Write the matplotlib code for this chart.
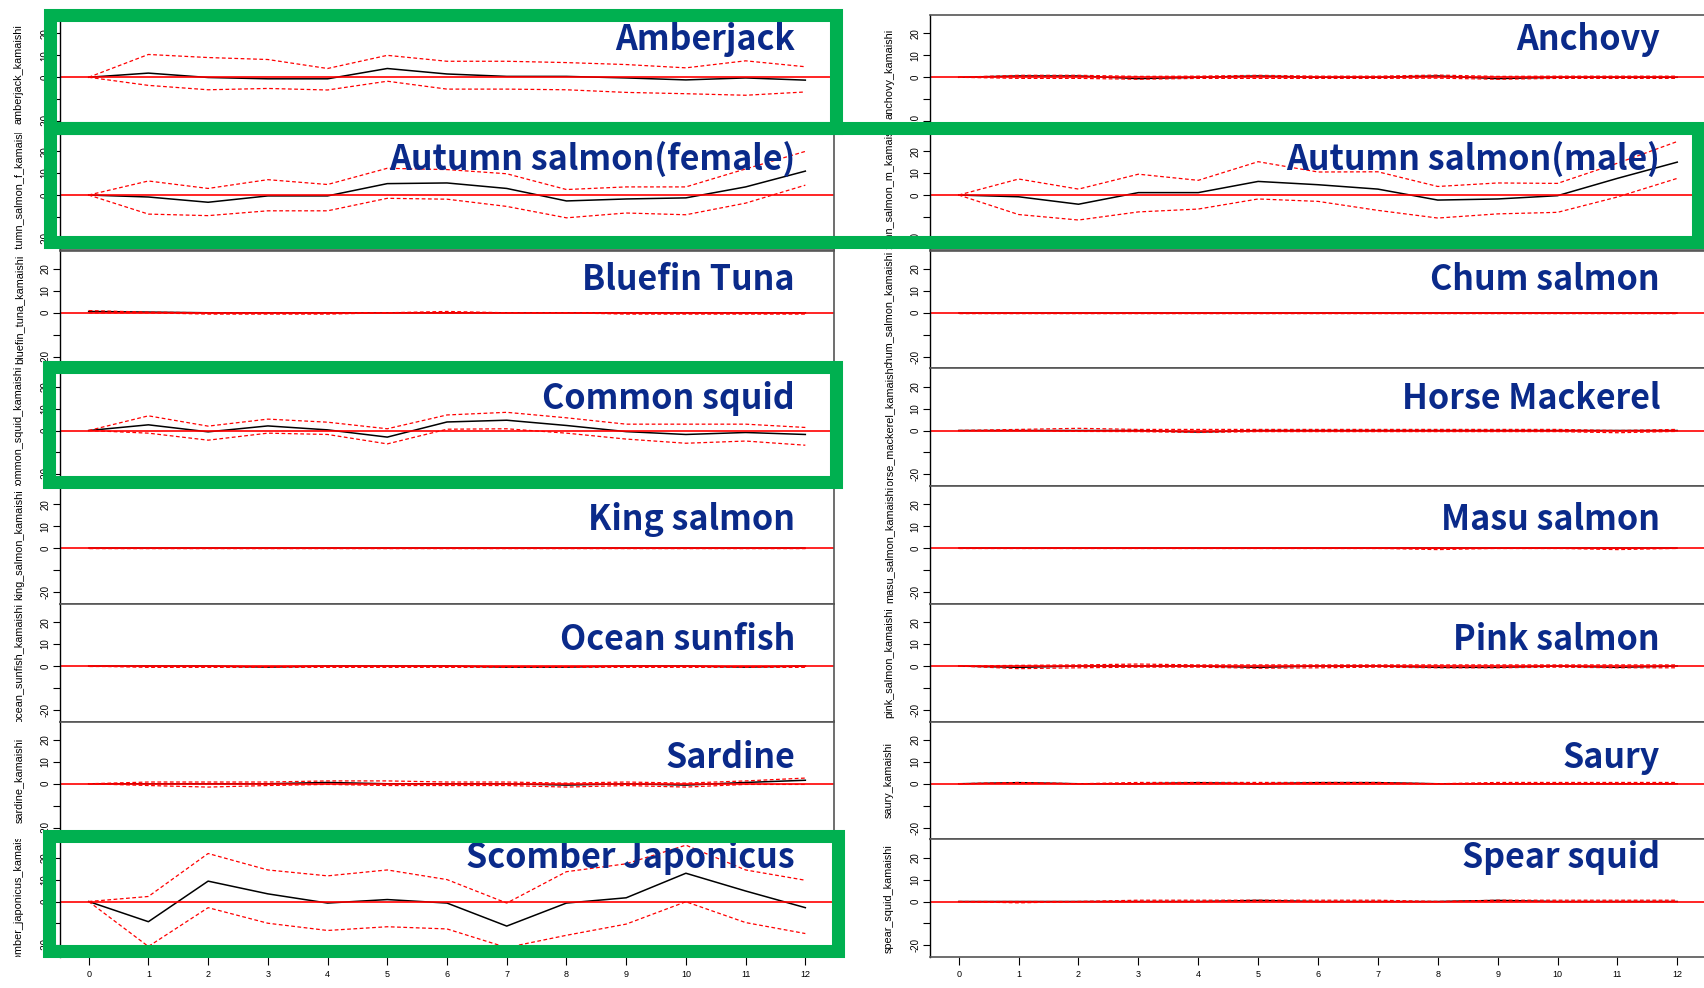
import matplotlib.pyplot as plt
from matplotlib.patches import Rectangle
from matplotlib.transforms import Bbox, TransformedBbox

plt.rcParams['font.family'] = ['Liberation Sans', 'DejaVu Sans']

# impulse responses (kamaishi), horizon 0..12
horizon = [0, 1, 2, 3, 4, 5, 6, 7, 8, 9, 10, 11, 12]

amberjack = [0, 1.9, -0.1, -0.7, -0.7, 4.0, 1.5, 0.4, 0.4, -0.3, -1.2, -0.3, -1.3]
amberjack_up = [0, 10.4, 9.0, 8.1, 4.0, 10.0, 7.3, 7.3, 6.7, 5.8, 4.3, 7.5, 4.8]
amberjack_lo = [0, -3.7, -5.7, -5.1, -5.8, -1.8, -5.4, -5.4, -5.7, -6.9, -7.5, -8.2, -6.7]

anchovy = [0, 0.6, 0.6, -0.6, 0, 0.6, 0, 0, 0.6, -0.6, 0, 0, 0]
anchovy_up = [0, 0.9, 0.9, 0.4, 0.5, 0.9, 0.5, 0.5, 1.0, 0.4, 0.5, 0.5, 0.5]
anchovy_lo = [0, -0.5, -0.5, -0.9, -0.5, -0.5, -0.5, -0.5, -0.4, -0.9, -0.5, -0.5, -0.5]

autumn_f = [0, -0.9, -3.3, -0.4, -0.4, 5.2, 5.5, 3.0, -2.7, -1.8, -1.3, 3.7, 10.9]
autumn_f_up = [0, 6.4, 3.0, 7.0, 4.8, 12.2, 11.6, 9.7, 2.5, 3.7, 3.7, 11.9, 19.9]
autumn_f_lo = [0, -8.7, -9.4, -7.2, -7.2, -1.5, -1.9, -5.2, -10.4, -8.2, -9.0, -3.7, 4.5]

autumn_m = [0, -0.8, -4.2, 1.1, 1.1, 6.2, 4.7, 2.7, -2.3, -1.8, -0.3, 7.6, 15.0]
autumn_m_up = [0, 7.3, 2.7, 9.5, 6.7, 15.2, 10.5, 10.6, 3.9, 5.5, 5.3, 14.5, 24.4]
autumn_m_lo = [0, -8.9, -11.4, -7.7, -6.4, -1.8, -2.9, -7.0, -10.5, -8.6, -7.9, -0.9, 7.6]

bluefin = [0.6, 0.3, 0, 0, 0, 0, 0, 0, 0, 0, 0, 0, 0]
bluefin_up = [1.0, 0.3, 0, 0, 0, 0, 0.6, 0, 0, 0, 0, 0, 0]
bluefin_lo = [0, 0, -0.6, -0.6, -0.6, 0, 0, 0, 0, -0.6, -0.6, -0.6, -0.6]

chum = [0, 0, 0, 0, 0, 0, 0, 0, 0, 0, 0, 0, 0]
chum_up = [0, 0, 0, 0, 0, 0, 0, 0, 0, 0, 0, 0, 0]
chum_lo = [0, 0, 0, 0, 0, 0, 0, 0, 0, 0, 0, 0, 0]

common_squid = [0, 2.6, -0.6, 2.1, 0.3, -3.0, 3.9, 4.7, 2.3, -0.5, -1.8, -0.9, -1.8]
common_squid_up = [0, 6.7, 2.0, 5.2, 3.8, 0.8, 7.1, 8.3, 5.8, 2.9, 2.9, 2.9, 1.4]
common_squid_lo = [0, -1.2, -4.4, -1.2, -1.8, -6.1, 0.6, 0.8, -1.2, -3.9, -5.8, -4.8, -6.7]

horse_mackerel = [0, 0, 0, 0, -0.7, 0, 0, 0, 0, 0, 0, 0, 0]
horse_mackerel_up = [0, 0.5, 1.0, 0.5, 0.5, 0.5, 0.5, 0.5, 0.5, 0.5, 0.5, 0, 0.5]
horse_mackerel_lo = [0, 0, -0.4, -0.5, -0.9, -0.5, -0.5, -0.5, -0.5, -0.5, -0.5, -1.0, -0.4]

king_salmon = [0, 0, 0, 0, 0, 0, 0, 0, 0, 0, 0, 0, 0]
king_salmon_up = [0, 0, 0, 0, 0, 0, 0, 0, 0, 0, 0, 0, 0]
king_salmon_lo = [0, 0, 0, 0, 0, 0, 0, 0, 0, 0, 0, 0, 0]

masu_salmon = [0, 0, 0, 0, 0, 0, 0, 0, 0, 0, 0, 0, 0]
masu_salmon_up = [0, 0, 0, 0, 0, 0, 0, 0, 0, 0, 0, 0, 0]
masu_salmon_lo = [0, 0, 0, 0, 0, 0, 0, 0, -0.6, 0, 0, -0.6, 0]

ocean_sunfish = [0, 0, 0, -0.5, 0, 0, 0, -0.5, -0.5, 0, 0, -0.5, 0]
ocean_sunfish_up = [0, 0, 0, 0, 0, 0, 0, 0, 0, 0, 0, 0, 0]
ocean_sunfish_lo = [0, -0.6, -0.6, -0.6, -0.6, -0.6, -0.6, -0.6, -0.6, -0.6, -0.6, -0.6, -0.6]

pink_salmon = [0, -0.6, 0, 0, 0, -0.6, 0, 0, -0.6, -0.6, 0, -0.6, 0]
pink_salmon_up = [0, 0.3, 0.5, 0.9, 0.5, 0.5, 0.5, 0.5, 0.5, 0.5, 0.5, 0.5, 0.5]
pink_salmon_lo = [0, -1.2, -0.8, -0.5, -0.5, -1.0, -0.8, -0.5, -0.8, -0.8, -0.5, -0.8, -0.8]

sardine = [0, 0, 0, 0, 0.6, 0, 0, 0, -0.6, 0, -0.6, 0.6, 1.6]
sardine_up = [0, 0.8, 0.8, 0.8, 1.3, 1.3, 0.8, 0.8, 0.3, 0.8, 0.3, 1.3, 2.6]
sardine_lo = [0, -0.8, -1.5, -0.8, -0.3, -0.8, -0.8, -0.8, -1.5, -0.8, -1.5, -0.3, -0.3]

saury = [0, 0.5, 0, 0, 0.5, 0, 0.5, 0.5, 0, 0, 0, 0, 0]
saury_up = [0, 0.6, 0, 0.6, 0.6, 0.6, 0.6, 0.6, 0, 0.6, 0.6, 0.6, 0.6]
saury_lo = [0, 0.4, 0, 0, 0, 0, 0, 0, 0, 0, 0, 0, 0]

scomber = [0, -9.2, 9.3, 3.5, -0.7, 0.9, -0.7, -11.2, -0.7, 1.7, 12.9, 4.8, -2.8]
scomber_up = [0, 2.3, 21.9, 14.4, 11.7, 14.4, 10.0, -0.7, 13.6, 17.2, 25.7, 14.4, 9.7]
scomber_lo = [0, -20.5, -2.8, -9.9, -13.2, -11.5, -12.5, -21.0, -15.4, -10.3, -0.1, -9.6, -14.6]

spear_squid = [0, 0, 0, 0, 0, 0.5, 0, 0, 0, 0.5, 0, 0, 0]
spear_squid_up = [0, 0, 0, 0.6, 0.6, 0.6, 0.6, 0.6, 0, 0.6, 0.6, 0.6, 0.6]
spear_squid_lo = [0, -0.6, 0, 0, 0, 0, 0, 0, 0, 0, 0, 0, 0]

left_panels = [
    ("Amberjack", "amberjack_kamaishi", amberjack, amberjack_up, amberjack_lo),
    ("Autumn salmon(female)", "autumn_salmon_f_kamaishi", autumn_f, autumn_f_up, autumn_f_lo),
    ("Bluefin Tuna", "bluefin_tuna_kamaishi", bluefin, bluefin_up, bluefin_lo),
    ("Common squid", "common_squid_kamaishi", common_squid, common_squid_up, common_squid_lo),
    ("King salmon", "king_salmon_kamaishi", king_salmon, king_salmon_up, king_salmon_lo),
    ("Ocean sunfish", "ocean_sunfish_kamaishi", ocean_sunfish, ocean_sunfish_up, ocean_sunfish_lo),
    ("Sardine", "sardine_kamaishi", sardine, sardine_up, sardine_lo),
    ("Scomber Japonicus", "scomber_japonicus_kamaishi", scomber, scomber_up, scomber_lo),
]
right_panels = [
    ("Anchovy", "anchovy_kamaishi", anchovy, anchovy_up, anchovy_lo),
    ("Autumn salmon(male)", "autumn_salmon_m_kamaishi", autumn_m, autumn_m_up, autumn_m_lo),
    ("Chum salmon", "chum_salmon_kamaishi", chum, chum_up, chum_lo),
    ("Horse Mackerel", "horse_mackerel_kamaishi", horse_mackerel, horse_mackerel_up, horse_mackerel_lo),
    ("Masu salmon", "masu_salmon_kamaishi", masu_salmon, masu_salmon_up, masu_salmon_lo),
    ("Pink salmon", "pink_salmon_kamaishi", pink_salmon, pink_salmon_up, pink_salmon_lo),
    ("Saury", "saury_kamaishi", saury, saury_up, saury_lo),
    ("Spear squid", "spear_squid_kamaishi", spear_squid, spear_squid_up, spear_squid_lo),
]

W, H = 1704, 988
fig = plt.figure(figsize=(W / 100, H / 100), dpi=100)
fig.patch.set_facecolor('white')

row_top = 15
row_h = 117.75
title_base = [50, 170, 290, 409, 530, 650, 768, 868]
title_color = '#0a2a8a'


def draw_panel(x0, x1, row, panel, title_right):
    title, ylab, irf, up, lo = panel
    top = row_top + row * row_h
    ax = fig.add_axes([x0 / W, 1 - (top + row_h) / H, (x1 - x0) / W, row_h / H])
    ax.plot(horizon, irf, color='black', lw=1.1)
    ax.plot(horizon, up, color='red', lw=0.9, ls=(0, (3, 2)))
    ax.plot(horizon, lo, color='red', lw=0.9, ls=(0, (3, 2)))
    ax.axhline(0, color='red', lw=1.2)
    ax.set_xlim(-0.48, 12.48)
    ax.set_ylim(-25.3, 28.4)
    ax.set_yticks([-20, -10, 0, 10, 20])
    ax.set_yticklabels(['-20', '', '0', '10', '20'], rotation=90, va='center', fontsize=7)
    ax.tick_params(axis='y', direction='out', length=5, width=0.8, pad=2)
    if row == 7:
        ax.set_xticks(horizon)
        ax.set_xticklabels([str(h) for h in horizon], fontsize=6.5)
        ax.tick_params(axis='x', direction='out', length=6, width=0.8, pad=3)
    else:
        ax.set_xticks([])
    for side in ['top', 'bottom', 'right']:
        ax.spines[side].set_color('#555555')
        ax.spines[side].set_linewidth(1.2)
    ax.spines['left'].set_color('black')
    ax.spines['left'].set_linewidth(1.0)

    # variable name, clipped to its own row like R does
    ax.set_ylabel(ylab, fontsize=7.8)
    ax.yaxis.set_label_coords(-36 / (x1 - x0), 0.5)
    lab = ax.yaxis.label
    lab.set_clip_box(TransformedBbox(Bbox([[-0.2, 0], [1, 1]]), ax.transAxes))
    lab.set_clip_on(True)

    fig.text(title_right / W, 1 - title_base[row] / H, title, ha='right', va='baseline',
             fontsize=24.5, fontweight='bold', color=title_color,
             family=['Noto Sans CJK JP', 'DejaVu Sans'])


for r, p in enumerate(left_panels):
    draw_panel(60, 834, r, p, 795)
for r, p in enumerate(right_panels):
    draw_panel(930, 1706, r, p, 1660)

# green highlight boxes (pixel edges: left, top, right, bottom)
boxes = [(50, 15, 836, 128), (50, 128, 1698, 242), (49, 367, 836, 482), (49, 836, 838, 951)]
for bx0, by0, bx1, by1 in boxes:
    fig.add_artist(Rectangle((bx0 / W, 1 - by1 / H), (bx1 - bx0) / W, (by1 - by0) / H,
                             transform=fig.transFigure, fill=False, edgecolor='#00b050',
                             lw=9.4, joinstyle='miter', zorder=10))

fig.savefig('out.png', dpi=100)
